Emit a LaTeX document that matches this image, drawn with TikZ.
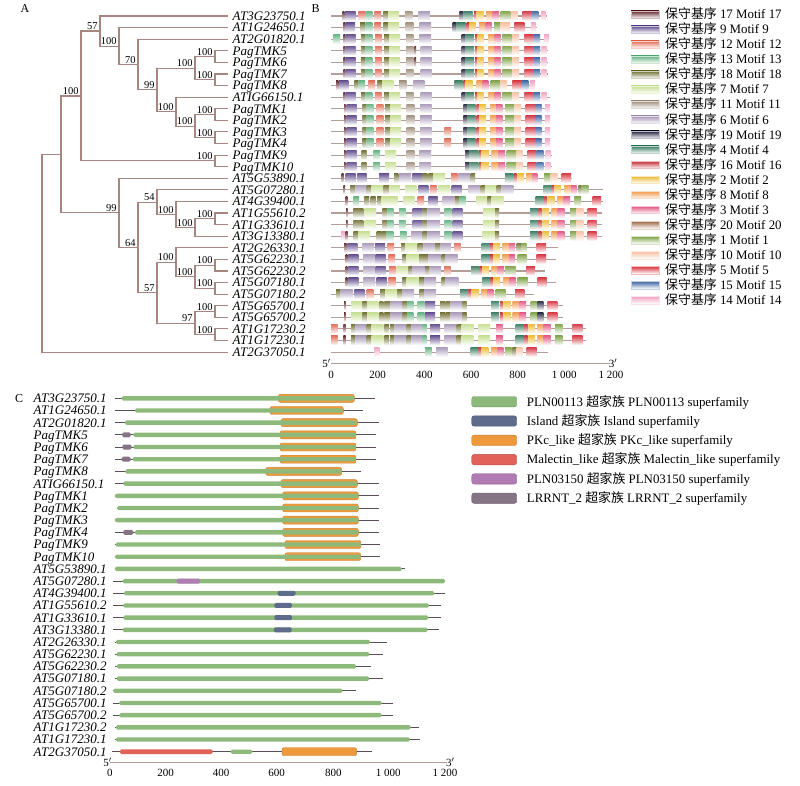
\documentclass[tikz,border=0pt]{standalone}
\usepackage{fontspec}
\setmainfont{Liberation Serif}
\newfontfamily\cjk{Noto Sans CJK SC}
\usetikzlibrary{calc}
\definecolor{m17}{HTML}{5A1E22}
\definecolor{m9}{HTML}{5B4589}
\definecolor{m12}{HTML}{DF6650}
\definecolor{m13}{HTML}{5CAD7A}
\definecolor{m18}{HTML}{6B6A2C}
\definecolor{m7}{HTML}{C4DD8C}
\definecolor{m11}{HTML}{9C8B79}
\definecolor{m6}{HTML}{A594B5}
\definecolor{m19}{HTML}{1F1D3A}
\definecolor{m4}{HTML}{357A5E}
\definecolor{m16}{HTML}{C0262F}
\definecolor{m2}{HTML}{EDB72E}
\definecolor{m8}{HTML}{EF9646}
\definecolor{m3}{HTML}{E0507C}
\definecolor{m20}{HTML}{9A6442}
\definecolor{m1}{HTML}{7A9F40}
\definecolor{m10}{HTML}{F7BC9C}
\definecolor{m5}{HTML}{D42E3A}
\definecolor{m15}{HTML}{3861A0}
\definecolor{m14}{HTML}{EFA0C0}
\definecolor{cgreen}{HTML}{8DBA7A}
\definecolor{cisland}{HTML}{5E6B8B}
\definecolor{corange}{HTML}{EE9A3C}
\definecolor{cmal}{HTML}{E2625A}
\definecolor{cpln}{HTML}{B07AB2}
\definecolor{clrr}{HTML}{847484}
\definecolor{clinec}{HTML}{5A4D5A}
\definecolor{trc}{HTML}{A88680}
\definecolor{blc}{HTML}{B59E9A}
\tikzset{
  tr/.style={draw=trc, line width=1.1pt},
  leaf/.style={anchor=base west, inner sep=0pt, font=\fontsize{13}{14}\selectfont\itshape},
  bs/.style={anchor=south east, inner sep=0.3pt, font=\fontsize{10.5}{12}\selectfont},
  tick/.style={anchor=base, inner sep=0pt, font=\fontsize{11}{12}\selectfont},
  lgd/.style={anchor=base west, inner sep=0pt, font=\fontsize{12.9}{14}\selectfont},
  pan/.style={anchor=base west, inner sep=0pt, font=\fontsize{12}{14}\selectfont},
  bline/.style={draw=blc, line width=1.1pt},
  cln/.style={draw=clinec, line width=0.9pt},
  axl/.style={draw=blc, line width=1pt}
}
\newcommand\mbx[4]{\shade[top color=#4!90,bottom color=#4!6,middle color=#4!50] (#2,#1-4.6) rectangle (#3,#1+4);}
\newcommand\brow[3]{\draw[bline] (18,#1) -- (#2,#1);
  \foreach \a/\b/\mc in #3 {\mbx{#1}{\a}{\b}{\mc}}}
\newcommand\crow[5]{\draw[cln] (#2,#1) -- (#3,#1);
  \fill[cgreen, rounded corners=1.5pt] (#4,#1-2.2) rectangle (#5,#1+2.2);}
\newcommand\crowo[7]{\draw[cln] (#2,#1) -- (#3,#1);
  \filldraw[fill=corange, draw=corange!85!black, line width=0.4pt, rounded corners=2pt] (#6,#1-4) rectangle (#7,#1+4);
  \fill[cgreen, rounded corners=1.5pt] (#4,#1-2.2) rectangle (#5,#1+2.2);}
\newcommand\cext[4]{\fill[#4, rounded corners=1.5pt] (#2,#1-2.5) rectangle (#3,#1+2.5);}
\def\lstA{55/60/m17,62/92/m9,108/122/m18,122/142/m13,150/170/m12,177/192/m18,192/225/m7,243/265/m11,287/320/m6,410/422/m19,422/447/m4,450/458/m16,458/475/m2,490/508/m8,508/527/m3,532/560/m1,562/582/m10,598/625/m5,625/645/m15,650/665/m14}
\def\lstB{57/62/m17,65/95/m9,112/125/m18,125/145/m13,155/175/m12,180/195/m18,195/228/m7,245/268/m11,285/320/m6,415/428/m19,428/452/m4,455/462/m16,462/483/m2,495/513/m8,513/532/m3,540/568/m1,568/588/m10,602/630/m5,630/650/m15,660/675/m14}
\def\lstC{57/62/m17,65/95/m9,110/125/m18,145/165/m13,180/213/m7,245/268/m11,283/318/m6,420/433/m19,433/460/m4,462/470/m16,470/492/m2,500/520/m8,520/540/m3,545/575/m1,575/593/m10,608/635/m5,635/655/m15,662/677/m14}
\def\lstD{63/68/m17,85/100/m18,100/115/m18,118/153/m7,172/187/m18,187/205/m13,222/242/m13,263/293/m9,293/307/m18,307/345/m6,358/380/m13,383/412/m9,475/510/m7,510/522/m18,615/640/m4,640/650/m16,652/672/m2,680/698/m8,698/718/m3,735/755/m1,755/775/m10,788/815/m5}
\def\lstE{57/62/m17,78/112/m7,112/127/m18,127/160/m7,163/175/m18,178/195/m18,195/232/m6,232/247/m18,247/265/m13,278/298/m13,300/330/m9,345/360/m18,362/377/m18,377/412/m6,412/425/m18,498/522/m4,525/533/m16,535/557/m2,563/583/m8,583/603/m3,617/637/m1,637/655/m19,668/697/m5}
\def\lstF{18/38/m12,55/62/m17,78/92/m18,92/125/m6,125/140/m18,140/175/m7,178/192/m18,195/208/m18,208/245/m6,245/258/m18,258/292/m6,292/305/m13,315/345/m9,358/395/m6,395/410/m18,410/445/m7,460/495/m7,513/533/m3,572/597/m4,598/608/m16,610/630/m2,637/655/m8,655/677/m3,690/712/m1,742/772/m5}
\begin{document}
\begin{tikzpicture}[x=1pt,y=-1pt]
\useasboundingbox (0,0) rectangle (800,785);
% panel letters
\node[pan] (pA) at (20.5,12) {A};
\node[pan] (pB) at (311.5,12) {B};
\node[pan] (pC) at (15,402.5) {C};
% leaves and labels
\foreach \nm [count=\i] in {AT3G23750.1,AT1G24650.1,AT2G01820.1,PagTMK5,PagTMK6,PagTMK7,PagTMK8,ATIG66150.1,PagTMK1,PagTMK2,PagTMK3,PagTMK4,PagTMK9,PagTMK10,AT5G53890.1,AT5G07280.1,AT4G39400.1,AT1G55610.2,AT1G33610.1,AT3G13380.1,AT2G26330.1,AT5G62230.1,AT5G62230.2,AT5G07180.1,AT5G07180.2,AT5G65700.1,AT5G65700.2,AT1G17230.2,AT1G17230.1,AT2G37050.1}{
  \pgfmathsetmacro\yy{16+(\i-1)*11.59}
  \pgfmathsetmacro\yc{398.3+(\i-1)*12.186}
  \coordinate (l\i) at (228,\yy);
  \node[leaf] (tl\i) at (232.5,\yy+4.4) {\nm};
  \node[leaf] (cl\i) at (33.5,\yc+4.4) {\nm};
}
% internal nodes
\coordinate (n56) at (215,56.57);
\coordinate (n78) at (215,79.75);
\coordinate (ne) at (195,68.16);
\coordinate (n12) at (215,114.52);
\coordinate (n34) at (215,137.70);
\coordinate (ni) at (195,126.11);
\coordinate (nh) at (176,111.62);
\coordinate (nd) at (157,89.89);
\coordinate (nc) at (138,64.54);
\coordinate (nb) at (119,46.06);
\coordinate (na) at (100,31.03);
\coordinate (n910) at (215,160.88);
\coordinate (ntop) at (81,95.95);
\coordinate (n100c) at (215,218.83);
\coordinate (n100b) at (195,227.52);
\coordinate (n100a) at (176,214.48);
\coordinate (n54) at (157,202.17);
\coordinate (n62230) at (215,265.19);
\coordinate (n07180) at (215,288.37);
\coordinate (n100e) at (195,276.78);
\coordinate (n100d) at (176,262.29);
\coordinate (n65700) at (215,311.55);
\coordinate (n17230) at (215,334.73);
\coordinate (n97) at (195,323.14);
\coordinate (n57) at (157,292.72);
\coordinate (n64) at (138,247.45);
\coordinate (nlow) at (119,212.86);
\coordinate (n1) at (61,154.41);
\coordinate (root) at (42,253.26);
% edges
\foreach \p/\c in {root/n1,root/l30,n1/ntop,n1/nlow,ntop/na,ntop/n910,na/l1,na/nb,nb/l2,nb/nc,nc/l3,nc/nd,nd/ne,nd/nh,ne/n56,ne/n78,n56/l4,n56/l5,n78/l6,n78/l7,nh/l8,nh/ni,ni/n12,ni/n34,n12/l9,n12/l10,n34/l11,n34/l12,n910/l13,n910/l14,nlow/l15,nlow/n64,n64/n54,n64/n57,n54/l16,n54/n100a,n100a/l17,n100a/n100b,n100b/n100c,n100b/l20,n100c/l18,n100c/l19,n57/n100d,n57/n97,n100d/l21,n100d/n100e,n100e/n62230,n100e/n07180,n62230/l22,n62230/l23,n07180/l24,n07180/l25,n97/n65700,n97/n17230,n65700/l26,n65700/l27,n17230/l28,n17230/l29}
  {\draw[tr] (\p) |- (\c);}
% bootstrap labels
\foreach \c/\v in {na/57,nb/100,nc/70,nd/99,ne/100,n56/100,n78/100,nh/100,ni/100,n12/100,n34/100,n910/100,ntop/100,nlow/99,n64/64,n54/54,n100a/100,n100b/100,n100c/100,n57/57,n100d/100,n100e/100,n62230/100,n07180/100,n97/97,n65700/100,n17230/100}
  {\node[bs] (bs-\c) at ([xshift=-2pt,yshift=0.8pt]\c) {\v};}
% ---------- panel B ----------
\begin{scope}[x=0.33333pt, xshift=325pt]
\brow{16}{665}{{52/58/m17,60/92/m9,100/120/m12,122/142/m13,148/168/m12,175/190/m18,190/222/m7,240/262/m11,280/315/m6,403/415/m19,415/443/m4,447/455/m16,455/475/m2,483/503/m8,503/522/m3,527/556/m1,558/578/m10,592/620/m5,620/640/m15,648/662/m14}}
\brow{27.59}{635}{{55/60/m17,62/90/m9,105/120/m18,122/142/m13,148/168/m12,175/190/m18,190/222/m7,242/265/m11,283/318/m6,383/395/m19,395/422/m4,425/432/m16,432/452/m2,462/482/m8,482/500/m3,507/527/m1,527/555/m10,568/598/m5,618/632/m14}}
\brow{39.18}{672}{{25/45/m13,55/60/m17,62/92/m9,108/122/m18,122/142/m13,150/170/m12,177/192/m18,192/225/m7,243/265/m11,283/318/m6,410/422/m19,422/447/m4,450/458/m16,458/475/m2,490/508/m8,508/527/m3,532/560/m1,562/582/m10,598/625/m5,625/645/m15,657/672/m14}}
\brow{50.77}{668}{\lstA}\mbx{50.77}{268}{273}{m17}
\brow{62.36}{668}{\lstA}\mbx{62.36}{268}{273}{m17}
\brow{73.95}{668}{\lstA}
\brow{85.54}{630}{{33/40/m17,42/70/m9,88/100/m18,100/120/m13,130/150/m12,157/172/m18,172/205/m7,222/245/m11,265/298/m6,388/413/m4,415/422/m16,422/443/m2,455/473/m8,473/490/m3,497/525/m1,527/545/m10,562/590/m5,590/610/m15,615/630/m14}}
\brow{97.13}{675}{\lstA}
\brow{108.72}{675}{\lstB}
\brow{120.31}{675}{\lstB}
\brow{131.90}{675}{\lstB}\mbx{131.90}{358}{378}{m12}
\brow{143.49}{675}{\lstB}\mbx{143.49}{358}{378}{m12}
\brow{155.08}{680}{\lstC}
\brow{166.67}{680}{\lstC}
\brow{178.26}{740}{{50/56/m17,62/92/m9,97/125/m9,162/192/m9,207/220/m18,222/258/m6,262/292/m9,292/307/m18,310/325/m18,325/360/m7,378/398/m12,400/435/m6,437/450/m18,540/565/m4,567/575/m16,577/597/m2,603/622/m8,622/637/m3,657/677/m1,677/697/m10,710/738/m5}}
\brow{189.85}{833}{{55/60/m17,75/92/m18,92/125/m6,125/140/m18,140/175/m7,175/192/m18,192/225/m7,240/275/m7,280/310/m9,315/335/m12,340/375/m7,380/410/m9,430/467/m6,467/480/m18,480/515/m7,515/530/m18,530/565/m6,655/680/m4,680/688/m16,688/708/m2,718/738/m8,738/755/m3,760/770/m18,770/790/m1}}
\brow{201.44}{833}{{62/67/m17,85/102/m13,118/132/m18,137/152/m18,156/170/m18,170/218/m7,235/268/m7,278/297/m12,310/338/m9,353/390/m6,390/403/m18,403/422/m13,453/487/m7,487/500/m18,500/535/m7,632/657/m4,658/665/m16,668/688/m2,697/715/m8,715/735/m3,748/768/m1,803/828/m5}}
\brow{213.03}{830}{\lstD}
\brow{224.62}{830}{\lstD}
\brow{236.21}{830}{{48/62/m14,62/68/m17,85/100/m18,100/135/m7,155/170/m18,170/185/m18,185/205/m13,225/245/m13,258/293/m6,293/307/m18,307/345/m6,358/380/m13,383/412/m9,472/510/m7,510/522/m18,615/640/m4,640/650/m16,652/672/m2,680/698/m8,698/718/m3,735/755/m1,755/775/m10,788/815/m5}}
\brow{247.80}{700}{{57/65/m17,67/97/m9,112/147/m6,150/180/m9,187/207/m12,228/240/m18,240/278/m7,278/295/m18,295/330/m6,330/345/m18,345/378/m6,387/407/m12,470/495/m4,495/505/m16,505/525/m2,532/552/m8,552/570/m3,575/588/m18,588/605/m1,635/663/m5}}
\brow{259.39}{693}{{62/67/m17,70/100/m9,115/150/m6,152/182/m9,190/210/m12,232/245/m18,245/280/m7,282/297/m18,297/310/m18,310/348/m6,350/362/m18,362/398/m6,470/495/m4,495/505/m16,505/525/m2,532/552/m8,552/570/m3,578/605/m1,635/663/m5}}
\brow{270.98}{660}{{62/67/m17,70/100/m9,115/150/m6,152/182/m9,192/212/m12,215/250/m7,250/262/m18,262/300/m6,300/312/m18,312/348/m6,357/377/m12,438/463/m4,463/472/m16,472/492/m2,500/518/m8,518/537/m3,540/572/m1,603/630/m5}}
\brow{282.57}{693}{{62/67/m17,70/100/m9,115/150/m6,155/185/m9,190/212/m12,232/245/m18,245/280/m7,282/297/m18,297/333/m6,350/362/m18,362/400/m6,472/497/m4,497/505/m16,505/525/m2,535/553/m8,553/572/m3,578/608/m1,638/665/m5}}
\brow{294.16}{628}{{33/47/m18,47/83/m6,88/118/m9,125/145/m12,165/180/m18,180/217/m7,217/232/m18,232/267/m6,283/297/m18,297/333/m6,405/430/m4,430/440/m16,440/462/m2,468/487/m8,487/505/m3,512/542/m1,570/598/m5}}
\brow{305.75}{715}{\lstE}
\brow{317.34}{715}{\lstE}
\brow{328.93}{782}{\lstF}
\brow{340.52}{782}{\lstF}
\brow{352.11}{668}{{147/163/m14,300/320/m13,333/368/m6,437/460/m4,460/470/m16,470/490/m2,498/517/m8,517/535/m3,540/560/m1,562/575/m18,575/592/m10,605/635/m5}}
% axis B
\coordinate (ba0) at (18,363.3);
\coordinate (ba1) at (855,363.3);
\draw[axl] (ba0) -- (ba1);
\node[tick, anchor=base east] (b5) at (18,367.5) {5$'$};
\node[tick, anchor=base west] (b3) at (851,367.5) {3$'$};
\foreach \t/\lab [count=\k] in {18/0,158/200,298/400,438/600,578/800,718/1 000,858/1 200}
  {\node[tick] (bt\k) at (\t,378.5) {\lab};}
\end{scope}
% legend B
\foreach \c/\n [count=\k] in {m17/17,m9/9,m12/12,m13/13,m18/18,m7/7,m11/11,m6/6,m19/19,m4/4,m16/16,m2/2,m8/8,m3/3,m20/20,m1/1,m10/10,m5/5,m15/15,m14/14}{
  \pgfmathsetmacro\ly{14.5+(\k-1)*15.03}
  \shade[top color=\c, bottom color=white, middle color=\c!50] (631,\ly-3.8) rectangle (659,\ly+3.8);
  \draw[\c!30, line width=0.4pt] (631,\ly-3.8) rectangle (659,\ly+3.8);
  \node[lgd] (lb\k) at (665,\ly+4.3) {{\cjk 保守基序} \n{} Motif \n};
}
% ---------- panel C ----------
\begin{scope}[x=0.33333pt]
\crowo{398.30}{345}{1125}{365}{1062}{835}{1063}
\crowo{410.49}{345}{1088}{405}{1028}{810}{1030}
\crowo{422.67}{345}{1137}{375}{1070}{843}{1072}
\crowo{434.86}{345}{1127}{400}{1068}{840}{1068}\cext{434.86}{367}{392}{clrr}
\crowo{447.04}{345}{1127}{400}{1068}{840}{1068}\cext{447.04}{367}{395}{clrr}
\crowo{459.23}{345}{1127}{398}{1068}{840}{1068}\cext{459.23}{365}{392}{clrr}
\crowo{471.42}{345}{1083}{376}{1025}{797}{1025}
\crowo{483.60}{345}{1137}{370}{1072}{843}{1072}
\crowo{495.79}{345}{1138}{345}{1075}{848}{1075}
\crowo{507.97}{350}{1138}{352}{1075}{848}{1075}
\crowo{520.16}{345}{1138}{345}{1075}{848}{1075}
\crowo{532.35}{345}{1138}{405}{1075}{848}{1075}\cext{532.35}{370}{400}{clrr}
\crowo{544.53}{345}{1140}{347}{1083}{855}{1083}
\crowo{556.72}{345}{1140}{345}{1082}{855}{1082}
\crow{568.90}{345}{1215}{345}{1205}
\crow{581.09}{340}{1335}{368}{1335}\cext{581.09}{530}{600}{cpln}
\crow{593.28}{340}{1335}{372}{1303}\cext{593.28}{833}{887}{cisland}
\crow{605.46}{340}{1322}{370}{1287}\cext{605.46}{823}{876}{cisland}
\crow{617.65}{340}{1322}{370}{1285}\cext{617.65}{823}{876}{cisland}
\crow{629.83}{340}{1318}{368}{1283}\cext{629.83}{822}{875}{cisland}
\crow{642.02}{345}{1160}{348}{1110}
\crow{654.21}{345}{1150}{350}{1108}
\crow{666.39}{345}{1112}{350}{1068}
\crow{678.58}{345}{1150}{350}{1108}
\crow{690.76}{340}{1068}{340}{1027}
\crow{702.95}{340}{1180}{358}{1145}
\crow{715.14}{340}{1180}{358}{1145}
\crow{727.32}{345}{1258}{348}{1232}
\crow{739.51}{345}{1260}{348}{1230}
\draw[cln] (335,751.69) -- (1117,751.69);
\fill[cmal, rounded corners=1.5pt] (360,751.69-2.3) rectangle (638,751.69+2.3);
\fill[cgreen, rounded corners=1.5pt] (692,751.69-2.2) rectangle (757,751.69+2.2);
\filldraw[fill=corange, draw=corange!85!black, line width=0.4pt, rounded corners=2pt] (846,751.69-4) rectangle (1070,751.69+4);
% axis C
\coordinate (ca0) at (330,762.7);
\coordinate (ca1) at (1340,762.7);
\draw[axl] (ca0) -- (ca1);
\node[tick, anchor=base east] (c5) at (336,766.5) {5$'$};
\node[tick, anchor=base west] (c3) at (1338,766.5) {3$'$};
\foreach \t/\lab [count=\k] in {330/0,497/200,663/400,830/600,1000/800,1165/1 000,1335/1 200}
  {\node[tick] (ct\k) at (\t,776.3) {\lab};}
\end{scope}
% legend C
\foreach \c/\txt [count=\k] in {cgreen/PLN00113 {\cjk 超家族} PLN00113 superfamily,cisland/Island {\cjk 超家族} Island superfamily,corange/PKc\_like {\cjk 超家族} PKc\_like superfamily,cmal/Malectin\_like {\cjk 超家族} Malectin\_like superfamily,cpln/PLN03150 {\cjk 超家族} PLN03150 superfamily,clrr/LRRNT\_2 {\cjk 超家族} LRRNT\_2 superfamily}{
  \pgfmathsetmacro\ly{401.7+(\k-1)*19.3}
  \filldraw[fill=\c, draw=\c!80!black, line width=0.4pt, rounded corners=2.5pt] (471.7,\ly-5.2) rectangle (516.7,\ly+5.2);
  \node[lgd] (lc\k) at (526.7,\ly+4.3) {\txt};
}
\end{tikzpicture}
\end{document}
